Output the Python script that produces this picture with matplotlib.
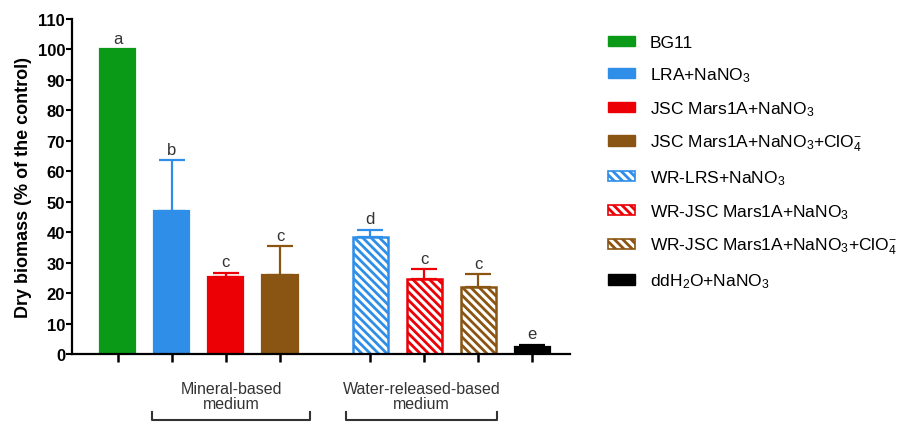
import numpy as np
import matplotlib
matplotlib.use("Agg")
import matplotlib.pyplot as plt
from matplotlib.patches import Patch

plt.rcParams['font.family'] = ['Liberation Sans', 'DejaVu Sans']
plt.rcParams['mathtext.fontset'] = 'custom'
plt.rcParams['mathtext.rm'] = 'Liberation Sans'
plt.rcParams['mathtext.it'] = 'Liberation Sans:italic'
plt.rcParams['mathtext.bf'] = 'Liberation Sans:bold'
plt.rcParams['hatch.linewidth'] = 2.0

# Treatments, mean dry biomass (% of BG11 control) and upper SD
labels = [
    'BG11',
    r'LRA+NaNO$_3$',
    r'JSC Mars1A+NaNO$_3$',
    r'JSC Mars1A+NaNO$_3$+ClO$_4^{-}$',
    r'WR-LRS+NaNO$_3$',
    r'WR-JSC Mars1A+NaNO$_3$',
    r'WR-JSC Mars1A+NaNO$_3$+ClO$_4^{-}$',
    r'ddH$_2$O+NaNO$_3$',
]
means = [100.0, 47.0, 25.2, 26.0, 38.5, 24.5, 22.0, 2.2]
sd = [0.0, 16.6, 1.4, 9.4, 2.2, 3.3, 4.2, 0.8]
letters = ['a', 'b', 'c', 'c', 'd', 'c', 'c', 'e']
colors = ['#0b9a17', '#2e8ee8', '#ec0006', '#8a5512',
          '#2e8ee8', '#ec0006', '#8a5512', '#000000']
hatched = [False, False, False, False, True, True, True, False]

# Mineral-based and water-released groups are separated by a gap
gap = 0.67
idx = np.arange(len(means))
x = idx + gap * (idx >= 4)
width = 0.65
hatch = '\\' * 4

fig = plt.figure(figsize=(9.15, 4.27), dpi=100)
ax = fig.add_axes([72 / 915, 1 - 355 / 427, (570 - 72) / 915, 335 / 427])

for xi, m, s, c, h in zip(x, means, sd, colors, hatched):
    if h:
        ax.bar(xi, m, width, facecolor='white', edgecolor=c,
               hatch=hatch, linewidth=1.8, zorder=2)
    else:
        ax.bar(xi, m, width, color=c, edgecolor=c, linewidth=1.6, zorder=2)
    if s > 0:
        ax.errorbar(xi, m, yerr=[[0], [s]], color=c, capsize=9.5,
                    elinewidth=1.6, capthick=1.6, zorder=1)

for xi, m, s, t in zip(x, means, sd, letters):
    ax.text(xi, m + s + 1.2, t, ha='center', va='bottom', fontsize=12,
            color='#333333')

ax.set_xlim(-0.85, x[-1] + 0.7)
ax.set_ylim(0, 110)
ax.set_yticks(np.arange(0, 111, 10))
ax.set_xticks(x)
ax.set_xticklabels([])
for side in ('top', 'right'):
    ax.spines[side].set_visible(False)
for side in ('left', 'bottom'):
    ax.spines[side].set_linewidth(1.6)
ax.tick_params(axis='y', length=4, width=1.5, labelsize=12, pad=1)
ax.tick_params(axis='x', length=6, width=1.8)
for lab in ax.get_yticklabels():
    lab.set_fontweight('bold')
ax.set_ylabel('Dry biomass (% of the control)', fontsize=13,
              fontweight='bold', labelpad=4)

# Group labels and brackets under the axis
tr = ax.get_xaxis_transform()
groups = [('Mineral-based\nmedium', 0.63, 3.56),
          ('Water-released-based\nmedium', 4.22, 7.02)]
for text, x0, x1 in groups:
    ax.text((x0 + x1) / 2, -0.125, text, transform=tr, ha='center',
            va='center', fontsize=11.5, color='#333333', linespacing=1.05)
    ax.plot([x0, x0, x1, x1], [-0.173, -0.197, -0.197, -0.173],
            transform=tr, color='#333333', lw=1.5, clip_on=False)

handles = []
for c, h in zip(colors, hatched):
    if h:
        handles.append(Patch(facecolor='white', edgecolor=c, hatch=hatch,
                             linewidth=1.2))
    else:
        handles.append(Patch(facecolor=c, edgecolor=c))
fig.legend(handles, labels, loc='upper left',
           bbox_to_anchor=(608 / 915, 1 - 36 / 427), frameon=False,
           fontsize=12.5, handlelength=1.55, handleheight=0.55,
           handletextpad=0.85, labelspacing=0.87, borderpad=0,
           borderaxespad=0)

fig.savefig('out.png', dpi=100)
